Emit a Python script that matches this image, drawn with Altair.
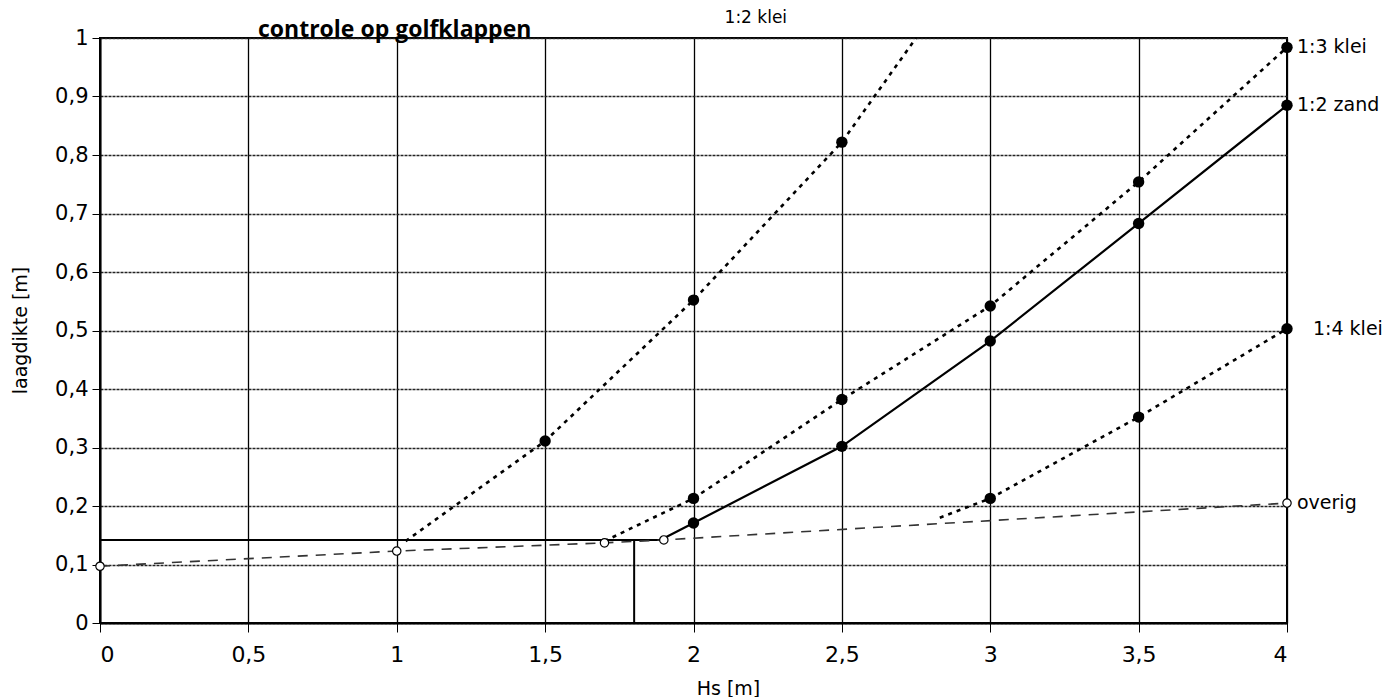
import altair as alt
import pandas as pd

FONT = "DejaVu Sans"
TITLE_FONT = "Open Sans"

# ---- data ----
klei12_x = [1.03, 1.5, 2.0, 2.5, 2.75]
klei12_y = [0.14, 0.311, 0.552, 0.822, 1.0]
klei12_dot = [0, 1, 1, 1, 0]

klei13_x = [1.7, 2.0, 2.5, 3.0, 3.5, 4.0]
klei13_y = [0.14, 0.213, 0.382, 0.542, 0.754, 0.984]
klei13_dot = [0, 1, 1, 1, 1, 1]

zand12_x = [1.9, 2.0, 2.5, 3.0, 3.5, 4.0]
zand12_y = [0.145, 0.171, 0.302, 0.482, 0.683, 0.885]
zand12_dot = [0, 1, 1, 1, 1, 1]

klei14_x = [2.83, 3.0, 3.5, 4.0]
klei14_y = [0.18, 0.213, 0.352, 0.503]
klei14_dot = [0, 1, 1, 1]

overig_x = [0.0, 1.0, 1.7, 1.9, 4.0]
overig_y = [0.097, 0.123, 0.137, 0.142, 0.205]

# reference lines
ref_h_y = [0.142]
ref_h_x = [0.0]
ref_h_x2 = [1.9]
ref_v_x = [1.8]
ref_v_y = [0.0]
ref_v_y2 = [0.142]

# series labels
label_text = ["1:2 klei", "1:3 klei", "1:2 zand", "1:4 klei", "overig"]
label_x = [2.21, 4.0, 4.0, 4.0, 4.0]
label_y = [1.0, 0.984, 0.885, 0.503, 0.205]
label_dx = [0, 10, 10, 26, 10]
label_dy = [-20, 0, 0, 0, 0]

x_ticks = [0, 0.5, 1, 1.5, 2, 2.5, 3, 3.5, 4]
y_ticks = [0, 0.1, 0.2, 0.3, 0.4, 0.5, 0.6, 0.7, 0.8, 0.9, 1]


def frame(name, xs, ys, dots=None):
    return pd.DataFrame({
        "serie": name,
        "x": xs,
        "y": ys,
        "dot": dots if dots is not None else [0] * len(xs),
        "order": list(range(len(xs))),
    })


dotted = pd.concat([
    frame("1:2 klei", klei12_x, klei12_y, klei12_dot),
    frame("1:3 klei", klei13_x, klei13_y, klei13_dot),
    frame("1:4 klei", klei14_x, klei14_y, klei14_dot),
])
solid = frame("1:2 zand", zand12_x, zand12_y, zand12_dot)
overig = frame("overig", overig_x, overig_y)
allpts = pd.concat([dotted, solid])
dots = allpts[allpts["dot"] == 1]

xscale = alt.Scale(domain=[0, 4], nice=False)
yscale = alt.Scale(domain=[0, 1], nice=False)

label_expr = "replace(format(datum.value, '~g'), '.', ',')"

xaxis = alt.Axis(
    values=x_ticks, labelExpr=label_expr, title="Hs [m]",
    grid=True, gridColor="black", gridWidth=1.3,
    domainColor="black", domainWidth=2, tickColor="black", tickSize=9,
    labelPadding=12, labelFontSize=22, labelFont=FONT, labelColor="black",
    titleFont=FONT, titleFontSize=19, titleFontWeight="normal", titleColor="black",
    titleX=628, titleY=65, titleBaseline="middle", titleAlign="center",
)
yaxis = alt.Axis(
    values=y_ticks, labelExpr=label_expr, title="laagdikte [m]",
    grid=True, gridColor="#222222", gridWidth=1.5, gridDash=[3, 1],
    domainColor="black", domainWidth=2, tickColor="black", tickSize=8,
    labelPadding=4, labelFontSize=21, labelFont=FONT, labelColor="black",
    titleFont=FONT, titleFontSize=19, titleFontWeight="normal", titleColor="black",
    titleX=-80, titleY=292, titleBaseline="middle", titleAlign="center", titleAngle=-90,
)

base_x = alt.X("x:Q", scale=xscale, axis=xaxis)
base_y = alt.Y("y:Q", scale=yscale, axis=yaxis)

dotted_lines = alt.Chart(dotted).mark_line(
    color="black", strokeWidth=2.6, strokeDash=[4, 5]
).encode(x=base_x, y=base_y, detail="serie:N", order="order:Q")

solid_line = alt.Chart(solid).mark_line(
    color="black", strokeWidth=2.2
).encode(x="x:Q", y="y:Q", order="order:Q")

overig_line = alt.Chart(overig).mark_line(
    color="#333333", strokeWidth=1.6, strokeDash=[10, 8]
).encode(x="x:Q", y="y:Q", order="order:Q")

overig_pts = alt.Chart(overig).mark_point(
    shape="circle", filled=True, fill="white", stroke="black", strokeWidth=1.2,
    size=70, opacity=1
).encode(x="x:Q", y="y:Q")

filled_pts = alt.Chart(dots).mark_point(
    shape="circle", filled=True, color="black", size=130, opacity=1
).encode(x="x:Q", y="y:Q")

href = alt.Chart(pd.DataFrame({"x": ref_h_x, "x2": ref_h_x2, "y": ref_h_y})).mark_rule(
    color="black", strokeWidth=2
).encode(x="x:Q", x2="x2:Q", y="y:Q")

vref = alt.Chart(pd.DataFrame({"x": ref_v_x, "y": ref_v_y, "y2": ref_v_y2})).mark_rule(
    color="black", strokeWidth=2
).encode(x="x:Q", y="y:Q", y2="y2:Q")

labels_df = pd.DataFrame({"t": label_text, "x": label_x, "y": label_y,
                          "dx": label_dx, "dy": label_dy})
label_layers = []
for i in range(len(label_text)):
    sub = labels_df.iloc[[i]]
    label_layers.append(
        alt.Chart(sub).mark_text(
            align="left" if i > 0 else "center", baseline="middle",
            dx=int(label_dx[i]), dy=int(label_dy[i]),
            font=FONT, fontSize=19 if i > 0 else 17, color="black",
        ).encode(x="x:Q", y="y:Q", text="t:N")
    )

title_txt = alt.Chart(pd.DataFrame({"t": ["controle op golfklappen"]})).mark_text(
    align="left", baseline="alphabetic", font=TITLE_FONT, fontSize=23,
    fontWeight="bold", color="black", dy=-1,
).encode(x=alt.value(158), y=alt.value(0), text="t:N")

chart = alt.layer(
    href, vref, overig_line, dotted_lines, solid_line,
    overig_pts, filled_pts, title_txt, *label_layers
).properties(
    width=1187, height=585,
    autosize=alt.AutoSizeParams(type="none"),
    padding={"left": 92, "top": 30, "right": 98, "bottom": 74},
    background="white",
).configure_view(stroke="black", strokeWidth=2)

chart.save("out.html", embed_options={"renderer": "svg", "actions": False})
